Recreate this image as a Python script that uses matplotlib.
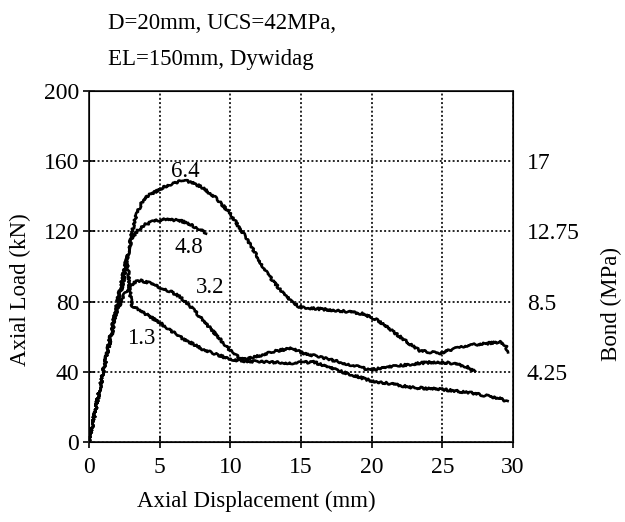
import matplotlib.pyplot as plt

plt.rcParams["font.family"] = ["Liberation Serif", "DejaVu Serif"]

# curves: axial displacement (mm) vs axial load (kN)
x_64 = [0, 1, 2, 2.5, 2.8, 3.0, 3.3, 3.7, 4.1, 4.8, 5.5, 6.2, 6.7, 7.3, 8.0, 9.0, 10.0,
        10.9, 11.8, 12.6, 13.5, 14.3, 14.9, 16, 17.5, 19.4, 20.5, 21.5, 22.5, 23.4, 24.8,
        25.8, 26.7, 28, 29.1, 29.5, 29.6]
y_64 = [0, 40, 78, 95, 108, 118, 128, 136, 140, 143, 146, 148, 149, 148, 145, 139, 130,
        119, 107, 96, 87, 80, 77, 76, 75, 73, 69, 63, 57, 52, 50.5,
        53, 55, 56, 57, 55, 51]

x_48 = [0, 1, 2, 2.5, 2.8, 3.0, 3.5, 4.0, 4.5, 5.0, 5.5, 6.0, 6.5, 7.0, 7.5, 8.0, 8.3]
y_48 = [0, 40, 77, 94, 108, 116, 121, 124, 125.5, 126.5, 127, 126.5, 126, 124.5, 122.5, 120.5, 119]

x_32 = [0, 1, 2, 2.5, 2.8, 3.2, 3.7, 4.3, 5.0, 5.7, 6.4, 7.2, 8.0, 9.0, 10.0, 10.7, 11.3,
        12, 13, 14.4, 15, 16.5, 18.5, 19.9, 20.6, 22, 23.5, 24.6, 25.5, 26.7, 27.3]
y_32 = [0, 40, 75, 84, 88, 91, 92, 90.5, 88, 86, 83, 77, 70, 61, 52, 47.5, 47.5,
        49, 51.5, 53.5, 51, 48, 44, 41, 42, 43.5, 45, 45.6, 45, 43, 40]

x_13 = [0, 1, 2, 2.4, 2.7, 2.85, 3.0, 4.0, 5.0, 6.4, 8.0, 10.0, 11.2, 12.5, 14.4, 15.9,
        17.5, 19.9, 22.9, 25, 27, 29, 29.6]
y_13 = [0, 40, 80, 95, 106, 90, 78, 73, 68, 60, 53, 47, 46, 45.5, 45, 45.6,
        41, 35, 31, 30, 28, 25, 23]

curve_labels = ["6.4", "4.8", "3.2", "1.3"]
label_x = [6.8, 7.1, 8.6, 3.7]
label_y = [154, 111, 88, 59]

load_ticks = [0, 40, 80, 120, 160, 200]
bond_ticks = [40, 80, 120, 160]
bond_labels = ["4.25", "8.5", "12.75", "17"]

fig = plt.figure(figsize=(6.25, 5.22), dpi=100)
ax = fig.add_axes([0.1424, 0.1533, 0.6784, 0.6724])

for xs, ys in [(x_64, y_64), (x_48, y_48), (x_32, y_32), (x_13, y_13)]:
    line, = ax.plot(xs, ys, color="black", lw=1.9, zorder=3)
    line.set_sketch_params(scale=1.1, length=2.5, randomness=8)

for t, lx, ly in zip(curve_labels, label_x, label_y):
    ax.text(lx, ly, t, fontsize=16.5, ha="center", va="center", zorder=4)

ax.set_xlim(0, 30)
ax.set_ylim(0, 200)
ax.set_xticks(range(0, 31, 5))
ax.set_yticks(load_ticks)
ax.tick_params(direction="inout", length=8, width=1.2, labelsize=17)
ax.tick_params(axis="x", pad=7)
ax.tick_params(axis="y", pad=3)
ax.grid(True, color="0.15", linestyle=(0, (1, 1.2)), lw=1.4)
for s in ax.spines.values():
    s.set_linewidth(1.3)
    s.set_color("0.15")

ax2 = ax.twinx()
ax2.set_ylim(0, 200)
ax2.set_yticks(bond_ticks)
ax2.set_yticklabels(bond_labels)
ax2.tick_params(length=0, labelsize=17, pad=10)

fig.text(0.032, 0.445, "Axial Load (kN)", rotation=90, fontsize=16.5, ha="center", va="center")
fig.text(0.978, 0.418, "Bond (MPa)", rotation=90, fontsize=16.5, ha="center", va="center")
fig.text(0.41, 0.040, "Axial Displacement (mm)", fontsize=16.5, ha="center", va="center")
fig.text(0.173, 0.955, "D=20mm, UCS=42MPa,", fontsize=16.5, ha="left", va="center")
fig.text(0.173, 0.886, "EL=150mm, Dywidag", fontsize=16.5, ha="left", va="center")

fig.savefig("out.png", dpi=100)
